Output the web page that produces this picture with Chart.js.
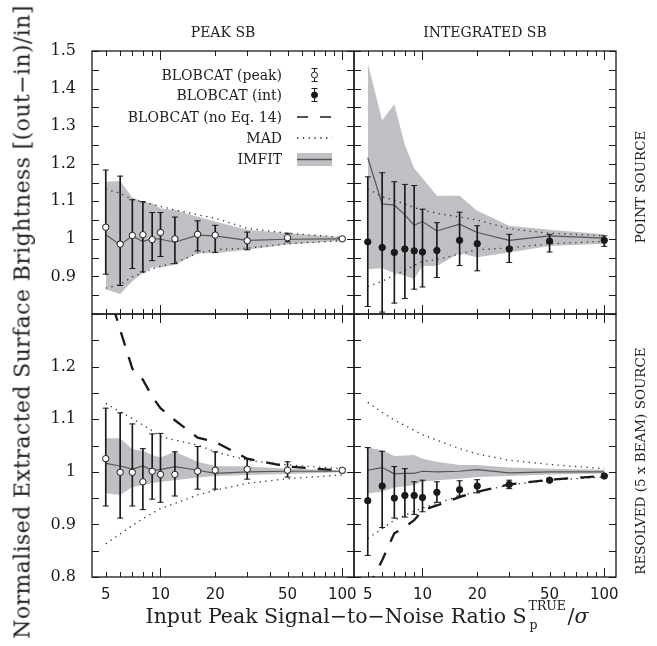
<!DOCTYPE html>
<html>
<head>
<meta charset="utf-8">
<script src="https://cdn.jsdelivr.net/npm/chart.js@4.4.1/dist/chart.umd.min.js"></script>
<style>
body{margin:0;background:#fff}
#page{position:relative;width:657px;height:646px;overflow:hidden;font-family:'DejaVu Serif',serif;color:#222}
canvas{position:absolute;left:0;top:0}
.c{position:absolute;white-space:nowrap;transform:translate(-50%,-50%)}
.v{position:absolute;white-space:nowrap;transform:translate(-50%,-50%) rotate(-90deg)}
.leg{position:absolute;right:375px;font-size:14px;line-height:16px;white-space:nowrap}
.ss{position:relative;display:inline-block;width:40px;height:10px;margin-left:1px}
.ss span{position:absolute;left:1px;font-size:12.5px;line-height:12px}
.ss .sup{top:-13px}
.ss .sub{top:6px;left:2px}
</style>
</head>
<body>
<div id="page">
  <canvas id="tl" width="657" height="646"></canvas>
  <canvas id="tr" width="657" height="646"></canvas>
  <canvas id="bl" width="657" height="646"></canvas>
  <canvas id="br" width="657" height="646"></canvas>

  <div class="c" style="left:223px;top:32px;font-size:14px">PEAK SB</div>
  <div class="c" style="left:485px;top:32px;font-size:14px">INTEGRATED SB</div>
  <div class="v" style="left:640px;top:187px;font-size:13.5px">POINT SOURCE</div>
  <div class="v" style="left:640px;top:461px;font-size:13.5px">RESOLVED (5 x BEAM) SOURCE</div>
  <div class="v" style="left:22px;top:322px;font-size:22px;letter-spacing:0.4px">Normalised Extracted Surface Brightness [(out−in)/in]</div>
  <div class="c" style="left:367px;top:616px;font-size:20.5px">Input Peak Signal−to−Noise Ratio S<span class="ss"><span class="sup">TRUE</span><span class="sub">p</span></span>/<i>σ</i></div>

  <div class="leg" style="top:67px">BLOBCAT (peak)</div>
  <div class="leg" style="top:87px">BLOBCAT (int)</div>
  <div class="leg" style="top:109px">BLOBCAT (no Eq. 14)</div>
  <div class="leg" style="top:130px">MAD</div>
  <div class="leg" style="top:151px">IMFIT</div>
  <svg style="position:absolute;left:290px;top:60px" width="50" height="110">
    <g stroke="#1a1a1a" stroke-width="1" fill="none">
      <line x1="24.5" y1="8" x2="24.5" y2="22"/><line x1="21.5" y1="8.5" x2="27.5" y2="8.5"/><line x1="21.5" y1="21.5" x2="27.5" y2="21.5"/>
      <circle cx="24.5" cy="15" r="3" fill="#fff"/>
      <line x1="24.5" y1="28" x2="24.5" y2="42"/><line x1="21.5" y1="28.5" x2="27.5" y2="28.5"/><line x1="21.5" y1="41.5" x2="27.5" y2="41.5"/>
      <circle cx="24.5" cy="35" r="3" fill="#1a1a1a"/>
      <line x1="7" y1="57" x2="18" y2="57" stroke-width="1.5"/><line x1="30" y1="57" x2="41" y2="57" stroke-width="1.5"/>
      <line x1="7" y1="78" x2="42" y2="78" stroke-width="1.3" stroke-dasharray="1.3 4.5"/>
    </g>
    <rect x="7" y="93" width="35" height="13" fill="#bfc0c4"/>
    <line x1="7" y1="99.5" x2="42" y2="99.5" stroke="#555" stroke-width="1.5"/>
  </svg>
</div>
<script>
const snr = [5, 6, 7, 8, 9, 10, 12, 16, 20, 30, 50, 100];

// peak SB, point source
const tlVal = [1.031, 0.986, 1.009, 1.011, 0.998, 1.017, 1.000, 1.012, 1.010, 0.995, 1.003, 1.000];
const tlLo = [0.906, 0.876, 0.921, 0.912, 0.942, 0.953, 0.934, 0.968, 0.964, 0.971, 0.992, 0.997];
const tlHi = [1.183, 1.167, 1.104, 1.099, 1.070, 1.070, 1.058, 1.048, 1.036, 1.018, 1.015, 1.003];
const tlImfit = [1.011, 0.984, 1.008, 0.993, 1.001, 0.999, 0.991, 1.010, 1.008, 0.996, 0.999, 1.000];
const tlBandHi = [1.152, 1.154, 1.110, 1.099, 1.095, 1.081, 1.077, 1.059, 1.046, 1.024, 1.015, 1.004];
const tlBandLo = [0.866, 0.853, 0.887, 0.909, 0.924, 0.924, 0.931, 0.962, 0.962, 0.971, 0.985, 0.995];
const tlMadHi = [1.133, 1.121, 1.105, 1.098, 1.092, 1.086, 1.077, 1.064, 1.055, 1.028, 1.015, 1.004];
const tlMadLo = [0.869, 0.878, 0.899, 0.910, 0.920, 0.927, 0.936, 0.962, 0.971, 0.975, 0.987, 0.995];

// integrated SB, point source
const trVal = [0.992, 0.977, 0.964, 0.973, 0.968, 0.965, 0.969, 0.996, 0.987, 0.973, 0.994, 0.996];
const trLo = [0.820, 0.805, 0.829, 0.841, 0.866, 0.872, 0.897, 0.929, 0.915, 0.937, 0.965, 0.980];
const trHi = [1.165, 1.176, 1.152, 1.145, 1.142, 1.079, 1.043, 1.071, 1.035, 1.012, 1.012, 1.008];
const trImfit = [1.216, 1.093, 1.090, 1.064, 1.036, 1.046, 1.021, 1.039, 1.017, 0.996, 1.008, 1.002];
const trBandHi = [1.468, 1.316, 1.358, 1.250, 1.188, 1.161, 1.115, 1.115, 1.075, 1.035, 1.024, 1.012];
const trBandLo = [0.919, 0.922, 0.909, 0.902, 0.893, 0.928, 0.928, 0.962, 0.951, 0.964, 0.981, 0.987];
const trMadHi = [1.133, 1.112, 1.103, 1.093, 1.083, 1.077, 1.068, 1.058, 1.050, 1.027, 1.015, 1.008];
const trMadLo = [0.873, 0.887, 0.904, 0.916, 0.929, 0.940, 0.945, 0.960, 0.971, 0.976, 0.987, 0.993];

// peak SB, resolved source
const blVal = [1.025, 0.999, 0.999, 0.981, 1.001, 0.995, 0.995, 1.001, 1.003, 1.005, 1.003, 1.003];
const blLo = [0.935, 0.912, 0.935, 0.928, 0.948, 0.942, 0.954, 0.967, 0.967, 0.986, 0.990, 0.998];
const blHi = [1.121, 1.112, 1.091, 1.044, 1.072, 1.073, 1.038, 1.048, 1.038, 1.025, 1.019, 1.006];
const blImfit = [1.016, 1.011, 1.005, 1.011, 1.003, 1.004, 1.010, 1.003, 0.997, 1.000, 1.001, 1.001];
const blBandHi = [1.064, 1.064, 1.043, 1.040, 1.032, 1.027, 1.038, 1.019, 1.011, 1.010, 1.006, 1.003];
const blBandLo = [0.959, 0.956, 0.971, 0.975, 0.978, 0.981, 0.984, 0.989, 0.992, 0.994, 0.996, 0.999];
const blNoEq = [1.360, 1.270, 1.196, 1.175, 1.143, 1.121, 1.098, 1.065, 1.057, 1.025, 1.010, 1.002];
const blMadHi = [1.130, 1.114, 1.101, 1.089, 1.078, 1.067, 1.060, 1.051, 1.038, 1.022, 1.013, 1.006];
const blMadLo = [0.863, 0.882, 0.898, 0.911, 0.921, 0.930, 0.940, 0.956, 0.965, 0.978, 0.987, 0.994];

// integrated SB, resolved source
const brVal = [0.945, 0.973, 0.950, 0.955, 0.955, 0.951, 0.961, 0.966, 0.973, 0.976, 0.984, 0.992];
const brLo = [0.841, 0.894, 0.912, 0.914, 0.919, 0.924, 0.942, 0.954, 0.960, 0.968, 0.981, 0.990];
const brHi = [1.046, 1.039, 1.010, 1.006, 0.981, 0.984, 0.981, 0.983, 0.985, 0.984, 0.987, 0.994];
const brImfit = [1.003, 1.008, 0.996, 0.997, 0.997, 1.001, 1.000, 1.001, 1.004, 0.998, 1.000, 1.000];
const brBandHi = [1.046, 1.041, 1.030, 1.031, 1.032, 1.025, 1.019, 1.013, 1.013, 1.008, 1.006, 1.004];
const brBandLo = [0.959, 0.962, 0.970, 0.972, 0.975, 0.981, 0.984, 0.987, 0.990, 0.992, 0.995, 0.997];
const brNoEq = [0.778, 0.832, 0.883, 0.895, 0.908, 0.927, 0.936, 0.952, 0.962, 0.976, 0.985, 0.992];
const brMadHi = [1.132, 1.113, 1.098, 1.088, 1.079, 1.070, 1.060, 1.044, 1.034, 1.022, 1.014, 1.006];
const brMadLo = [0.873, 0.892, 0.908, 0.917, 0.925, 0.931, 0.940, 0.954, 0.962, 0.975, 0.984, 0.990];

// ticks
const xTicks = [5, 6, 7, 8, 9, 10, 20, 30, 40, 50, 60, 70, 80, 90, 100];
const xLabels = [5, 10, 20, 50, 100];
const yTopTicks = [0.8, 0.85, 0.9, 0.95, 1, 1.05, 1.1, 1.15, 1.2, 1.25, 1.3, 1.35, 1.4, 1.45, 1.5];
const yTopLabels = [0.9, 1, 1.1, 1.2, 1.3, 1.4, 1.5];
const yBotTicks = [0.8, 0.85, 0.9, 0.95, 1, 1.05, 1.1, 1.15, 1.2, 1.25, 1.3];
const yBotLabels = [0.8, 0.9, 1, 1.1, 1.2];

const W = 657, H = 646;
const AXIS_X_H = 40; // room for bottom tick labels
const INK = '#1a1a1a', BAND = '#bfc0c4', LINE = '#555';

const pts = ys => snr.map((x, i) => ({x, y: ys[i]}));
const has = (list, v) => list.some(l => Math.abs(l - v) < 1e-6);

// frame + inward ticks on all four sides
function frameFor(yTicks) {
  return {
    id: 'frame',
    afterDatasetsDraw(chart) {
      const {ctx, chartArea: a, scales: {x, y}} = chart;
      ctx.save();
      ctx.strokeStyle = INK;
      ctx.lineWidth = 1;
      ctx.beginPath();
      xTicks.forEach(v => {
        const px = Math.round(x.getPixelForValue(v)) + 0.5;
        const len = (v === 10 || v === 100) ? 9 : 5;
        ctx.moveTo(px, a.bottom); ctx.lineTo(px, a.bottom - len);
        ctx.moveTo(px, a.top); ctx.lineTo(px, a.top + len);
      });
      yTicks.forEach(v => {
        const py = Math.round(y.getPixelForValue(v)) + 0.5;
        ctx.moveTo(a.left, py); ctx.lineTo(a.left + 7, py);
        ctx.moveTo(a.right, py); ctx.lineTo(a.right - 7, py);
      });
      ctx.stroke();
      ctx.lineWidth = 1.3;
      ctx.strokeRect(a.left, a.top, a.width, a.height);
      ctx.restore();
    }
  };
}

function panel(id, p) {
  const ds = [
    {type: 'scatter', data: pts(p.val), pointRadius: 3.2, pointBorderWidth: 1,
      pointBackgroundColor: p.open ? '#fff' : INK, pointBorderColor: INK},
    {type: 'scatter', data: pts(p.lo).concat(pts(p.hi)), pointStyle: 'line', pointRadius: 3,
      pointBorderWidth: 1, pointBorderColor: INK},
    {type: 'bar', data: snr.map((x, i) => ({x, y: [p.lo[i], p.hi[i]]})), barThickness: 1,
      backgroundColor: INK, borderWidth: 0},
    {type: 'line', data: pts(p.imfit), borderColor: LINE, borderWidth: 1.2, pointRadius: 0, tension: 0}
  ];
  if (p.noEq) {
    ds.push({type: 'line', data: pts(p.noEq), borderColor: INK, borderWidth: 2.3,
      borderDash: [14, 12], pointRadius: 0});
  }
  ds.push(
    {type: 'line', data: pts(p.madHi), borderColor: '#333', borderWidth: 1.3, borderDash: [1.3, 4.5], pointRadius: 0},
    {type: 'line', data: pts(p.madLo), borderColor: '#333', borderWidth: 1.3, borderDash: [1.3, 4.5], pointRadius: 0},
    {type: 'line', data: pts(p.bandHi), borderWidth: 0, pointRadius: 0, fill: '+1', backgroundColor: BAND},
    {type: 'line', data: pts(p.bandLo), borderWidth: 0, pointRadius: 0}
  );

  new Chart(document.getElementById(id), {
    type: 'scatter',
    data: {datasets: ds},
    options: {
      responsive: false,
      animation: false,
      devicePixelRatio: 1,
      events: [],
      layout: {padding: {
        left: p.showY ? 0 : p.cols[0],
        right: W - p.cols[1],
        top: p.rows[0],
        bottom: H - p.rows[1] - (p.showX ? AXIS_X_H : 0)
      }},
      plugins: {legend: {display: false}, tooltip: {enabled: false}},
      scales: {
        x: {
          type: 'logarithmic', min: 4.2, max: 116, offset: false, bounds: 'data',
          display: p.showX,
          grid: {display: false, drawTicks: false, offset: false}, border: {display: false},
          afterBuildTicks: s => { s.ticks = xTicks.map(v => ({value: v})); },
          afterFit: s => { s.height = p.showX ? AXIS_X_H : 0; },
          ticks: {autoSkip: false, maxRotation: 0, padding: 9, color: INK,
            font: {family: 'DejaVu Sans', size: 15},
            callback: v => has(xLabels, v) ? String(v) : ''}
        },
        y: {
          type: 'linear', min: p.yMin, max: p.yMax, beginAtZero: false,
          display: p.showY,
          grid: {display: false, drawTicks: false}, border: {display: false},
          afterBuildTicks: s => { s.ticks = p.yTicks.map(v => ({value: v})); },
          afterFit: s => { s.width = p.showY ? p.cols[0] : 0; },
          ticks: {autoSkip: false, padding: 16, color: INK,
            font: {family: 'DejaVu Serif', size: 16},
            callback: v => has(p.yLabels, v) ? String(+v.toFixed(2)) : ''}
        }
      }
    },
    plugins: [frameFor(p.yTicks)]
  });
}

const colL = [92, 354], colR = [354, 616];
const rowT = [51, 314], rowB = [314, 577];

panel('tl', {cols: colL, rows: rowT, yMin: 0.8, yMax: 1.5, yTicks: yTopTicks, yLabels: yTopLabels,
  showX: false, showY: true, open: true,
  val: tlVal, lo: tlLo, hi: tlHi, imfit: tlImfit, bandHi: tlBandHi, bandLo: tlBandLo, madHi: tlMadHi, madLo: tlMadLo});
panel('tr', {cols: colR, rows: rowT, yMin: 0.8, yMax: 1.5, yTicks: yTopTicks, yLabels: yTopLabels,
  showX: false, showY: false, open: false,
  val: trVal, lo: trLo, hi: trHi, imfit: trImfit, bandHi: trBandHi, bandLo: trBandLo, madHi: trMadHi, madLo: trMadLo});
panel('bl', {cols: colL, rows: rowB, yMin: 0.8, yMax: 1.3, yTicks: yBotTicks, yLabels: yBotLabels,
  showX: true, showY: true, open: true, noEq: blNoEq,
  val: blVal, lo: blLo, hi: blHi, imfit: blImfit, bandHi: blBandHi, bandLo: blBandLo, madHi: blMadHi, madLo: blMadLo});
panel('br', {cols: colR, rows: rowB, yMin: 0.8, yMax: 1.3, yTicks: yBotTicks, yLabels: yBotLabels,
  showX: true, showY: false, open: false, noEq: brNoEq,
  val: brVal, lo: brLo, hi: brHi, imfit: brImfit, bandHi: brBandHi, bandLo: brBandLo, madHi: brMadHi, madLo: brMadLo});
</script>
</body>
</html>
